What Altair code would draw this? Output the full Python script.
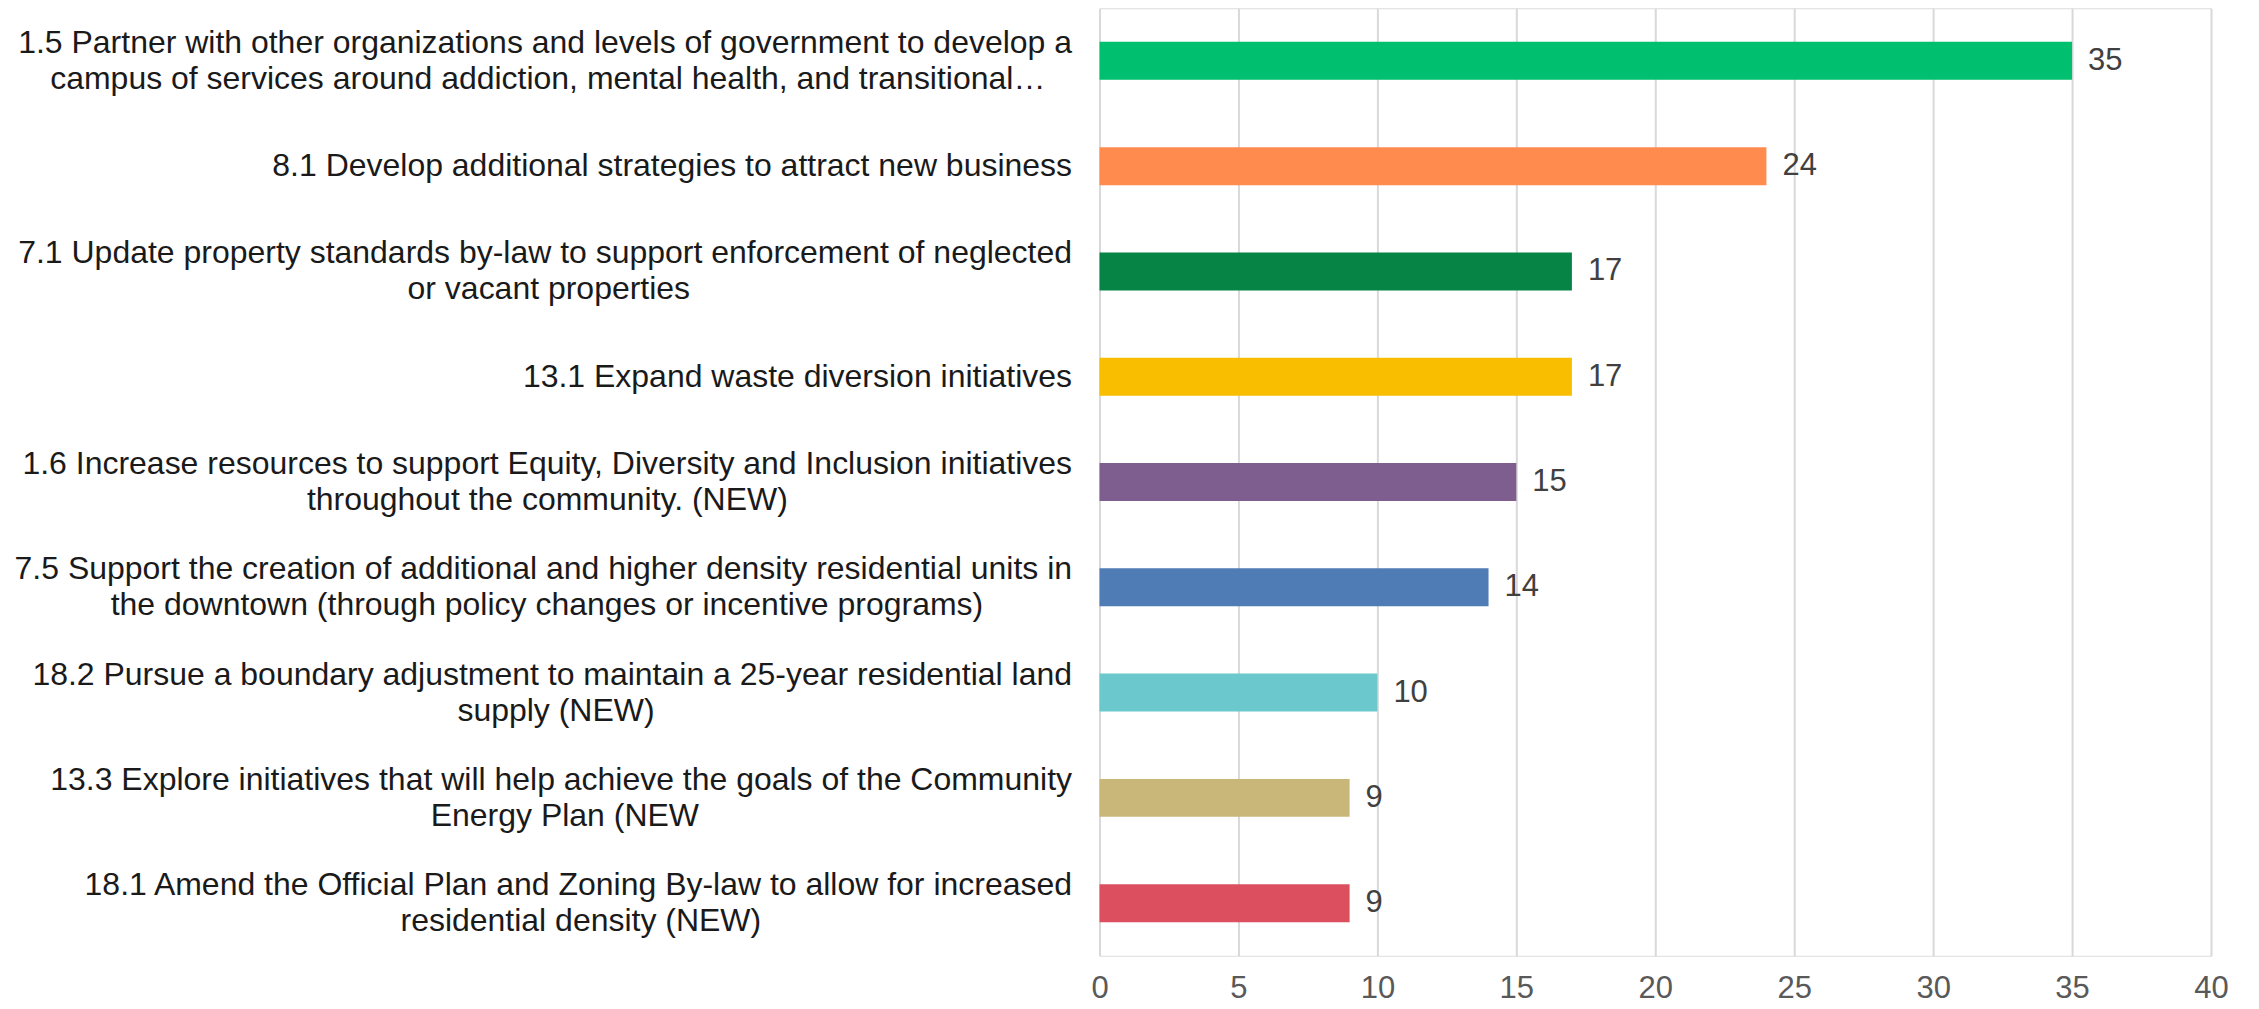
import altair as alt
import pandas as pd

# ---- data ----
first_lines = [
    "1.5 Partner with other organizations and levels of government to develop a",
    "8.1 Develop additional strategies to attract new business",
    "7.1 Update property standards by-law to support enforcement of neglected",
    "13.1 Expand waste diversion initiatives",
    "1.6 Increase resources to support Equity, Diversity and Inclusion initiatives",
    "7.5 Support the creation of additional and higher density residential units in",
    "18.2 Pursue a boundary adjustment to maintain a 25-year residential land",
    "13.3 Explore initiatives that will help achieve the goals of the Community",
    "18.1 Amend the Official Plan and Zoning By-law to allow for increased",
]
second_lines = [
    "campus of services around addiction, mental health, and transitional…",
    "",
    "or vacant properties",
    "",
    "throughout the community. (NEW)",
    "the downtown (through policy changes or incentive programs)",
    "supply (NEW)",
    "Energy Plan (NEW",
    "residential density (NEW)",
]
values = [35, 24, 17, 17, 15, 14, 10, 9, 9]
colors = ["#00BF6F", "#FF8B4F", "#068445", "#F9BE00", "#7D5E8F",
          "#507CB6", "#6BC8CD", "#C9B77A", "#DB4F5E"]
x_ticks = [0, 5, 10, 15, 20, 25, 30, 35, 40]

# ---- Arial / Liberation Sans advance widths (per 1000 em) to centre 2nd lines ----
_groups = {
    278: " ,./:;!fIt", 222: "ijl", 333: "-()r", 500: "cksvxyzJ", 556: "0123456789abdeghnopquL",
    584: "+", 611: "FTZ", 667: "ABEKPSVXY", 722: "CDHNRUw", 778: "GOQ", 833: "Mm",
    889: "%", 944: "W", 1000: "…", 191: "'",
}
W = {}
for w, chars in _groups.items():
    for ch in chars:
        W[ch] = w


def text_w(s):
    return sum(W.get(ch, 556) for ch in s)


labels = []
for a, b in zip(first_lines, second_lines):
    if b:
        pad = max(0, round((text_w(a) - text_w(b)) / 2 / 278))
        labels.append(a + "|" + b + "\u00a0" * pad + "\u200b")
    else:
        labels.append(a)

df = pd.DataFrame({"label": labels, "value": values})

FONT = "Liberation Sans, Arial, sans-serif"

y_enc = alt.Y(
    "label:N",
    sort=None,
    scale=alt.Scale(paddingInner=0.64, paddingOuter=0.32),
    axis=alt.Axis(
        title=None, ticks=False, domain=False, grid=False,
        labelExpr="split(datum.label, '|')",
        labelFont=FONT, labelFontSize=32, labelColor="#1a1a1a",
        labelLineHeight=36, labelPadding=28, labelLimit=1300,
        labelAlign="right", labelBaseline="middle",
        labelOffset={"condition": {"test": "indexof(datum.label, '|') >= 0", "value": -18},
                     "value": 0},
    ),
)

bars = alt.Chart(df).mark_bar(size=38).encode(
    y=y_enc,
    x=alt.X(
        "value:Q",
        scale=alt.Scale(domain=[0, 40], nice=False),
        axis=alt.Axis(
            title=None, values=x_ticks, ticks=False, domain=False,
            grid=True, gridColor="#d9d9d9", gridWidth=2,
            labelFont=FONT, labelFontSize=31, labelColor="#595959",
            labelPadding=18, labelFlush=False,
        ),
    ),
    color=alt.Color("label:N", scale=alt.Scale(domain=labels, range=colors), legend=None),
)

text = alt.Chart(df).mark_text(
    align="left", baseline="middle", dx=16, font=FONT, fontSize=31, color="#404040"
).encode(
    y=alt.Y("label:N", sort=None),
    x=alt.X("value:Q"),
    text=alt.Text("value:Q"),
)

chart = (
    alt.layer(bars, text)
    .properties(
        width=1112,
        height=948,
        autosize=alt.AutoSizeParams(type="none"),
        padding={"left": 1092, "top": 0, "right": 40, "bottom": 50},
    )
    .configure_view(stroke="transparent", strokeWidth=0)
    .configure(background="white")
)

chart.save("out.html", embed_options={"renderer": "svg", "actions": False})
